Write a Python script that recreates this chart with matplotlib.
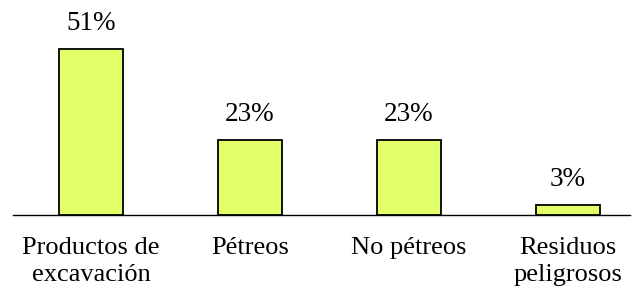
import matplotlib.pyplot as plt

categories = ["Productos de\nexcavación", "Pétreos", "No pétreos", "Residuos\npeligrosos"]
values = [51, 23, 23, 3]
value_labels = ["51%", "23%", "23%", "3%"]

plt.rcParams['font.family'] = ['Liberation Serif', 'DejaVu Serif']

fig = plt.figure(figsize=(6.36, 2.91), dpi=100)
ax = fig.add_axes([13 / 636, 76 / 291, 617 / 636, 215 / 291])

x = list(range(len(categories)))
ax.bar(x, values, width=0.4, color='#E1FF66', edgecolor='black', linewidth=1.3, zorder=3)

for xi, v, lab in zip(x, values, value_labels):
    ax.text(xi, v + 4.0, lab, ha='center', va='bottom', fontsize=19.5)

ax.set_xlim(-0.49, 3.39)
ax.set_ylim(0, 66)

for s in ['top', 'right', 'left']:
    ax.spines[s].set_visible(False)
ax.spines['bottom'].set_linewidth(1.0)
ax.set_yticks([])
ax.set_xticks(x)
ax.set_xticklabels(categories, fontsize=19, linespacing=1.3)
ax.tick_params(axis='x', length=0, pad=16)

fig.savefig("out.png", dpi=100)
